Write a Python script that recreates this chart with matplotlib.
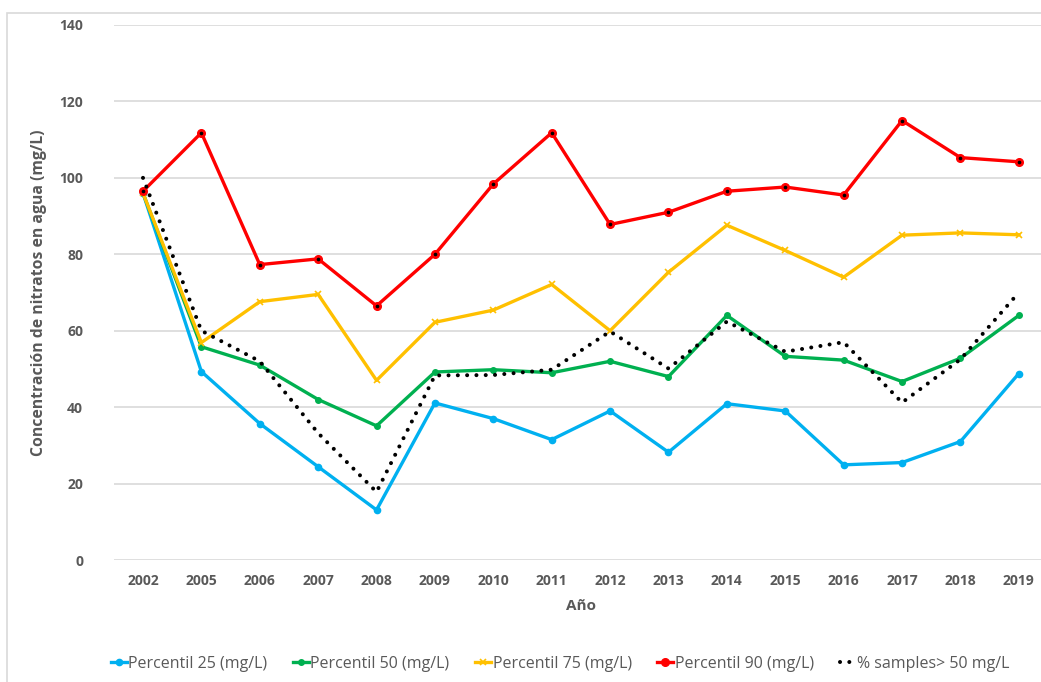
import numpy as np
import matplotlib.pyplot as plt
from matplotlib.patches import Rectangle

plt.rcParams['font.family'] = ['Open Sans', 'DejaVu Sans']

# datos
anios = ['2002', '2005', '2006', '2007', '2008', '2009', '2010', '2011',
         '2012', '2013', '2014', '2015', '2016', '2017', '2018', '2019']
p25 = [96, 49.3, 35.7, 24.4, 13.1, 41.1, 37, 31.5, 39, 28.2, 40.9, 39, 24.9, 25.5, 31, 48.8]
p50 = [96, 55.8, 51, 42, 35.1, 49.2, 49.8, 49, 52, 48, 64, 53.3, 52.3, 46.7, 52.8, 64]
p75 = [96, 56.9, 67.6, 69.5, 47, 62.2, 65.4, 72.1, 60, 75.3, 87.6, 81, 74, 85, 85.6, 85.1]
p90 = [96.5, 111.8, 77.3, 78.8, 66.5, 80, 98.4, 111.8, 87.8, 91, 96.5, 97.6, 95.5, 115, 105.3, 104.2]
muestras = [100, 60, 52, 33.2, 17.8, 48.3, 48.4, 49.8, 59.8, 50.1, 62.4, 54.5, 57, 41.2, 52.5, 70]

gris = '#595959'

fig = plt.figure(figsize=(10.41, 6.82), dpi=100)
ax = fig.add_axes([113.8 / 1041, 1 - 560 / 682, (1048 - 113.8) / 1041, (560 - 25) / 682])

# borde del area del grafico
fig.patches.append(Rectangle((7 / 1041, -0.05), 1.1, 1 - 13 / 682 + 0.05,
                             transform=fig.transFigure, fill=False,
                             edgecolor='#d9d9d9', linewidth=1.2))

x = np.arange(len(anios))
ax.plot(x, p25, '-', color='#00b0f0', lw=2.4, marker='o', ms=4.5, label='Percentil 25 (mg/L)')
ax.plot(x, p50, '-', color='#00b050', lw=2.4, marker='o', ms=4, label='Percentil 50 (mg/L)')
ax.plot(x, p75, '-', color='#ffc000', lw=2.4, marker='x', ms=4, mew=1.2, label='Percentil 75 (mg/L)')
ax.plot(x, p90, '-', color='#ff0000', lw=2.4, marker='o', ms=5.5, mfc='#ff0000', mec='#ff0000',
        label='Percentil 90 (mg/L)')
ax.plot(x, p90, linestyle='none', marker='o', ms=1.6, color='black')
ax.plot(x, muestras, color='black', lw=2.9, linestyle=(0, (0.01, 2.3)), dash_capstyle='round',
        label='% samples> 50 mg/L')

ax.set_xlim(-0.5, len(anios) - 0.5)
ax.set_ylim(0, 140)
ax.set_yticks(np.arange(0, 141, 20))
ax.set_xticks(x)
ax.set_xticklabels(anios)
ax.grid(axis='y', color='#d9d9d9', lw=1.2)
ax.set_axisbelow(True)
for s in ax.spines.values():
    s.set_visible(False)
ax.tick_params(length=0, labelsize=10, colors=gris, pad=10)
for lab in ax.get_xticklabels() + ax.get_yticklabels():
    lab.set_fontweight('bold')
ax.tick_params(axis='y', pad=22)

ax.set_xlabel('Año', fontsize=11, fontweight='bold', color=gris, labelpad=8)
ax.set_ylabel('Concentración de nitratos en agua (mg/L)', fontsize=11.3, fontweight='bold',
              color=gris, labelpad=9)

leg = fig.legend(loc='center', bbox_to_anchor=(0.538, 1 - 664 / 682), ncol=5, frameon=False,
                 fontsize=11.5, handlelength=1.0, handletextpad=0.1, columnspacing=1.6)
for t in leg.get_texts():
    t.set_color(gris)

fig.savefig('out.png', dpi=100)
